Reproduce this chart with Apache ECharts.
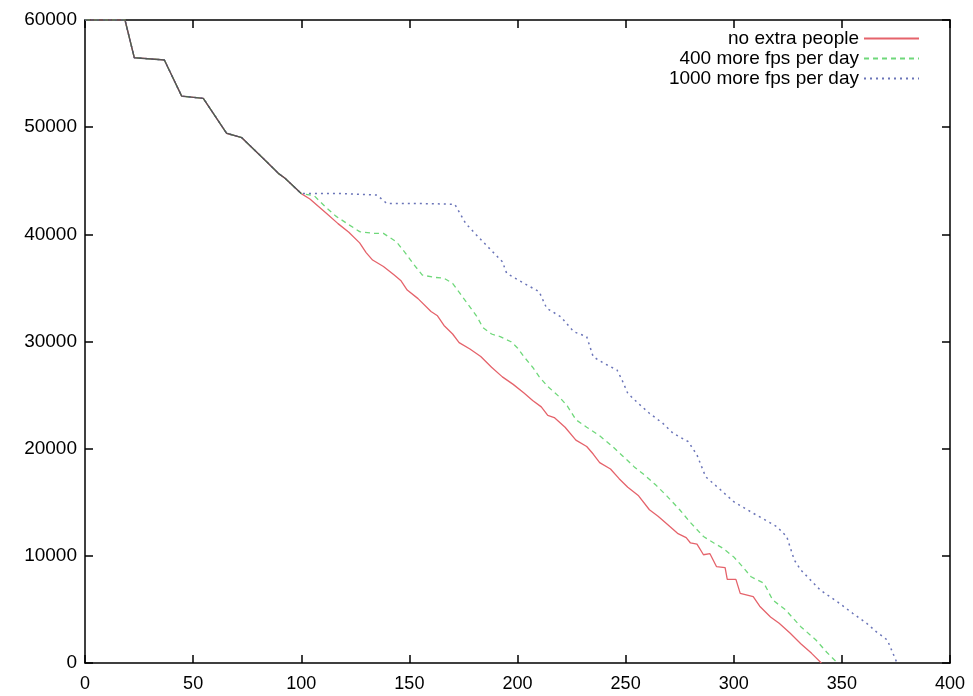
<!DOCTYPE html>
<html>
<head>
<meta charset="utf-8">
<script src="https://cdn.jsdelivr.net/npm/echarts@6/dist/echarts.min.js"></script>
<style>html,body{margin:0;padding:0;background:#fff;}#c{width:973px;height:696px;}</style>
</head>
<body>
<div id="c"></div>
<script>
// Shared segment (all three scenarios identical until ~day 100)
var commonX = [0, 18.5, 22.8, 36.7, 44.7, 54.7, 65.5, 72.5, 84, 89.4, 92.5, 100];
var commonY = [60000, 60000, 56480, 56270, 52900, 52690, 49430, 49020, 46780, 45690, 45230, 43800];

// "no extra people"
var redX = [104,108,112,117,122,127,130,133,138,143,146,149,154,160,163,166,170,173,178,183,188,193,198,203,207,211,214,217,222,227,232,235,238,243,247,251,256,261,265,269,274,278,280,283,286,289,292,296,297,301,303,309,312,317,321,326,331,336,340.5];
var redY = [43300,42600,41900,41000,40200,39200,38300,37600,37000,36200,35700,34800,34000,32800,32400,31500,30700,29900,29300,28600,27600,26700,26000,25200,24500,23900,23100,22900,22000,20800,20200,19500,18700,18100,17200,16400,15600,14300,13700,13000,12100,11700,11200,11100,10100,10200,9000,8900,7800,7800,6500,6200,5300,4300,3700,2800,1800,900,0];

// "400 more fps per day"
var greenX = [106,111,116,122,127,133,138,141,144,148,152,156,161,166,170,173,177,181,184,188,192,197,200,203,207,210,214,219,223,227,232,238,244,249,254,259,264,269,275,280,286,291,295,300,304,308,314,318,324,331,338,343,348];
var greenY = [43600,42600,41700,40900,40250,40100,40090,39700,39300,38300,37200,36200,36000,35900,35430,34600,33500,32400,31300,30700,30450,29980,29400,28580,27600,26720,25800,24900,24000,22700,22000,21200,20200,19250,18300,17500,16600,15600,14300,13100,11800,11170,10700,9900,9000,8050,7430,5880,4950,3390,2150,1000,0];

// "1000 more fps per day"
var blueX = [120,135,139.5,150,160,171,176,181,187,193,195,203,210,213.5,220,226,232,235,240,246,248,251,256,261,267,272,279,283,287,294,300,309,315,320,324.5,328,331,340,348,355,361.5,366,371,373,375.5];
var blueY = [43800,43670,42890,42880,42860,42800,41030,39940,38690,37450,36360,35430,34650,33100,32310,30910,30450,28580,27960,27340,26560,25160,24200,23300,22400,21430,20650,19410,17380,16140,15050,13970,13300,12720,11790,9610,8680,6810,5700,4640,3700,2900,2150,1200,0];

var seriesNames = ['no extra people', '400 more fps per day', '1000 more fps per day'];
var xTicks = [0, 50, 100, 150, 200, 250, 300, 350, 400];
var yTicks = [0, 10000, 20000, 30000, 40000, 50000, 60000];

function pairs(xs, ys) { var o = []; for (var i = 0; i < xs.length; i++) o.push([xs[i], ys[i]]); return o; }
var common = pairs(commonX, commonY);

var font = 'Liberation Sans, Arial, sans-serif';
var chart = echarts.init(document.getElementById('c'), null, {renderer: 'canvas'});
var axisLine = {show: true, onZero: false, lineStyle: {color: '#000', width: 1.5}};
var tick = {show: true, inside: true, length: 8, lineStyle: {color: '#000', width: 1.5}};
function plain(v) { return String(v); }
chart.setOption({
  animation: false,
  backgroundColor: '#fff',
  grid: {left: 85, right: 23, top: 20, bottom: 33},
  legend: {
    data: seriesNames,
    orient: 'vertical', right: 48, top: 24, align: 'right',
    itemWidth: 55, itemHeight: 14, itemGap: 1,
    itemStyle: {opacity: 0},
    textStyle: {fontFamily: font, fontSize: 19, color: '#000'}
  },
  xAxis: [
    {type: 'value', min: xTicks[0], max: xTicks[xTicks.length-1], interval: 50, position: 'bottom',
     axisLine: axisLine, axisTick: tick, splitLine: {show: false},
     axisLabel: {margin: 12, fontFamily: font, fontSize: 18, color: '#000', formatter: plain}},
    {type: 'value', min: 0, max: 400, interval: 50, position: 'top',
     axisLine: axisLine, axisTick: tick, splitLine: {show: false}, axisLabel: {show: false}}
  ],
  yAxis: [
    {type: 'value', min: yTicks[0], max: yTicks[yTicks.length-1], interval: 10000, position: 'left',
     axisLine: axisLine, axisTick: tick, splitLine: {show: false},
     axisLabel: {margin: 8, fontFamily: font, fontSize: 19, color: '#000', formatter: plain}},
    {type: 'value', min: 0, max: 60000, interval: 10000, position: 'right',
     axisLine: axisLine, axisTick: tick, splitLine: {show: false}, axisLabel: {show: false}}
  ],
  series: [
    {name: seriesNames[0], type: 'line', symbol: 'none', data: common.concat(pairs(redX, redY)),
     lineStyle: {color: '#e5636b', width: 1.3, type: 'solid'}, itemStyle: {color: '#e5636b'}},
    {name: seriesNames[1], type: 'line', symbol: 'none', data: common.concat(pairs(greenX, greenY)),
     lineStyle: {color: '#6fd87a', width: 1.3, type: [5, 4]}, itemStyle: {color: '#6fd87a'}},
    {name: seriesNames[2], type: 'line', symbol: 'none', data: common.concat(pairs(blueX, blueY)),
     lineStyle: {color: '#6a74b8', width: 1.5, type: [2, 4]}, itemStyle: {color: '#6a74b8'}},
    {name: '', type: 'line', symbol: 'none', silent: true, data: common,
     lineStyle: {color: '#555', width: 1.4}}
  ]
});
</script>
</body>
</html>
